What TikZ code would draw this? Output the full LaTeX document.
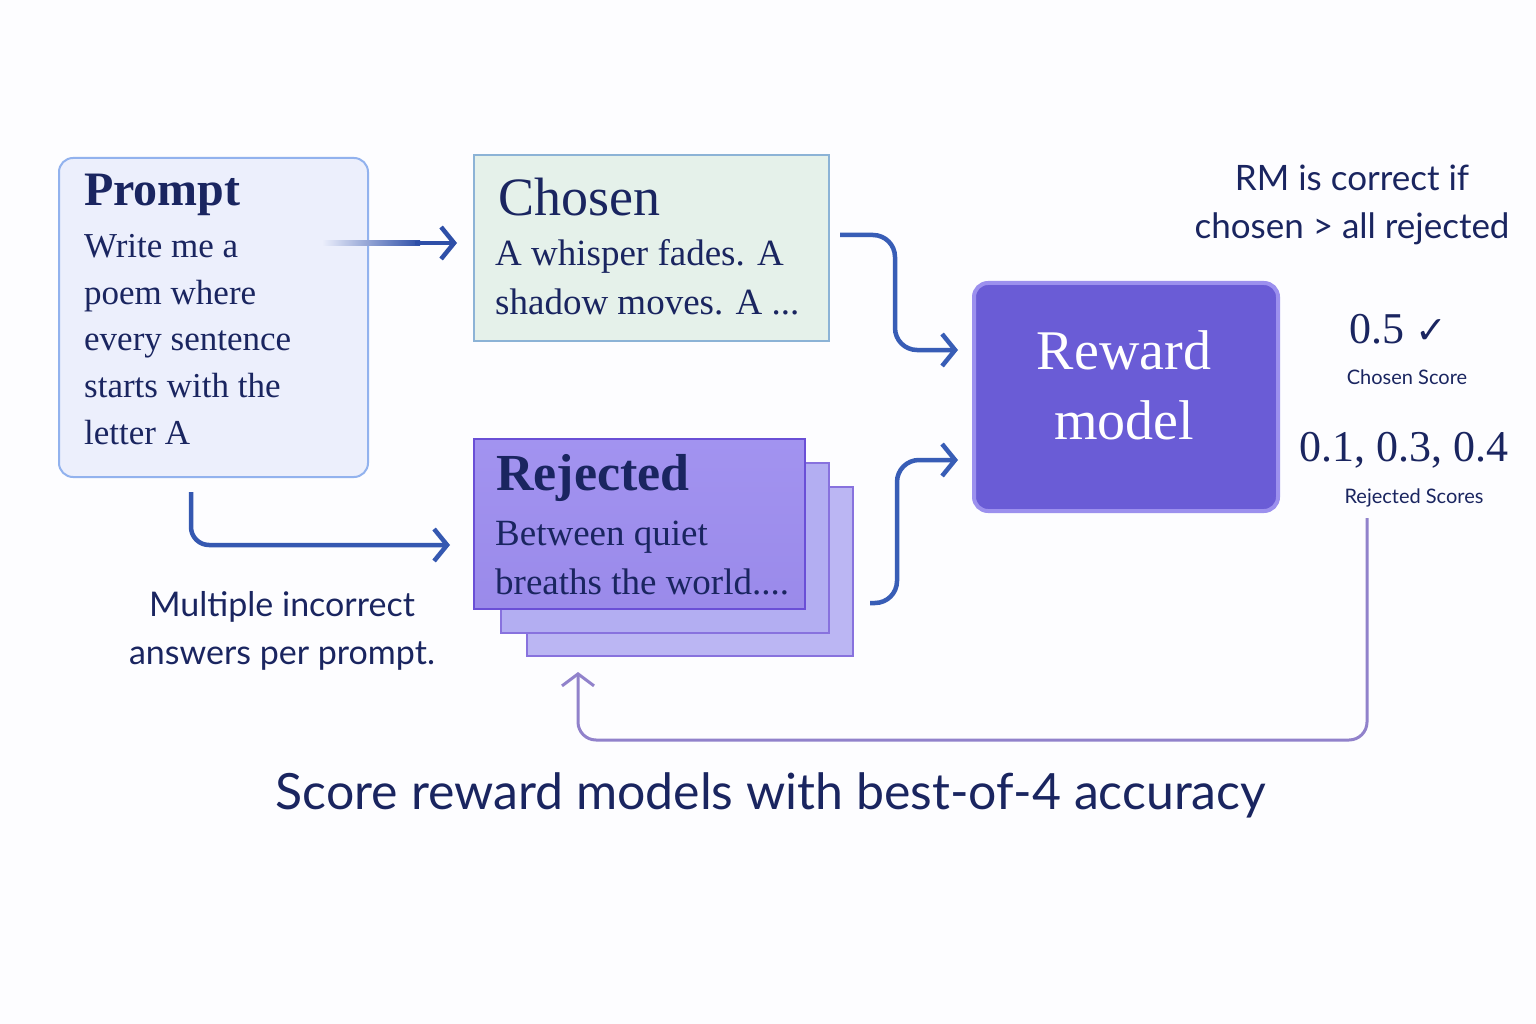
\documentclass[tikz,border=0pt]{standalone}
\usepackage{fontspec}
\setmainfont{Liberation Serif}
\newfontfamily\sansf{Lato}
\newfontfamily\symf{DejaVu Sans}
\usetikzlibrary{arrows.meta}
\definecolor{dblue}{HTML}{2E4FA8}
\definecolor{mblue}{HTML}{4F7FD8}
\definecolor{navy}{HTML}{1A2560}
\definecolor{rmfill}{HTML}{6A5CD6}
\definecolor{rmedge}{HTML}{9C90EE}
\definecolor{rjtop}{HTML}{A293F0}
\definecolor{rjbot}{HTML}{9A8AEA}
\definecolor{rjback}{HTML}{B3AEF2}
\definecolor{rjedge}{HTML}{6A4FD6}
\definecolor{chfill}{HTML}{E5F1EA}
\definecolor{chedge}{HTML}{8CB3D6}
\definecolor{pfill}{HTML}{ECEFFC}
\definecolor{pedge}{HTML}{92B2EE}
\tikzset{x=1pt,y=-1pt,
 conn/.style={line width=4.5pt,rounded corners=18pt,-{Straight Barb[length=13pt,width=32pt,line width=4.5pt]}},
 lbl/.style={inner sep=0,text=navy,align=left,anchor=west},
 fs/.style={font=\fontsize{#1}{#1}\selectfont}}
\begin{document}
\begin{tikzpicture}
\useasboundingbox (0,0) rectangle (1536,1024);
\fill[white!97!blue!30] (0,0) rectangle (1536,1024);
% prompt
\node[draw=pedge,line width=2pt,fill=pfill,rounded corners=14pt,minimum width=309pt,minimum height=319pt,anchor=north west] (p) at (58,157) {};
\node[lbl,fs=48] (pt) at (84,195) {\textbf{Prompt}};
\node[lbl,anchor=north west,font=\fontsize{35}{46.7}\selectfont] (pb) at (84,234) {\parbox[t]{270pt}{\raggedright Write me a\\poem where\\every sentence\\starts with the\\letter A}};
% chosen
\node[draw=chedge,line width=2pt,fill=chfill,minimum width=355pt,minimum height=186pt,anchor=north west] (c) at (473,154) {};
\node[lbl,fs=54] at (498,197) {Chosen};
\node[lbl,fs=37] at (495,256) {A whisper fades. A};
\node[lbl,fs=37] at (495,302) {shadow moves. A ...};
% rejected stack
\node[draw=rjedge!80,line width=2pt,fill=rjback!90,minimum width=326pt,minimum height=169pt,anchor=north west] (r3) at (526,486) {};
\node[draw=rjedge!80,line width=2pt,fill=rjback,minimum width=328pt,minimum height=170pt,anchor=north west] (r2) at (500,462) {};
\node[draw=rjedge,line width=2pt,top color=rjtop,bottom color=rjbot,minimum width=331pt,minimum height=170pt,anchor=north west] (r) at (473,438) {};
\node[lbl,fs=52] at (496,478) {\textbf{Rejected}};
\node[lbl,fs=37] at (495,537) {Between quiet};
\node[lbl,fs=37] at (495,582) {breaths the world....};
% reward model
\node[draw=rmedge,line width=4pt,fill=rmfill,rounded corners=14pt,minimum width=304pt,minimum height=228pt,anchor=north west] (rm) at (972,281) {};
\node[text=white,align=center,font=\fontsize{56}{70}\selectfont,inner sep=0] at (1124,385) {Reward\\model};
% right texts
\node[text=navy,align=center,inner sep=0,font=\sansf\fontsize{35}{48}\selectfont] (cond) at (1352,205) {RM is correct if\\chosen > all rejected};
\node[text=navy,fs=44,inner sep=0] (s1) at (1398,329) {0.5 {\symf\fontsize{38}{38}\selectfont ✓}};
\node[text=navy,inner sep=0,font=\sansf\fontsize{20}{20}\selectfont] (l1) at (1407,377) {Chosen Score};
\node[text=navy,fs=44,inner sep=0] (s2) at (1404,450) {0.1, 0.3, 0.4};
\node[text=navy,inner sep=0,font=\sansf\fontsize{20}{20}\selectfont] (l2) at (1414,498) {Rejected Scores};
\node[text=navy,align=center,inner sep=0,font=\sansf\fontsize{34}{48}\selectfont] (m) at (282,631) {Multiple incorrect\\answers per prompt.};
\node[text=navy,inner sep=0,font=\sansf\fontsize{50}{50}\selectfont] (t) at (771,795) {Score reward models with best-of-4 accuracy};
% connectors
\coordinate (a1) at (457,243);
\shade[left color=pfill,right color=dblue] (322,240.75) rectangle (420,245.25);
\draw[conn,dblue] (415,243) -- (a1);
\coordinate (b0) at (191,492); \coordinate (b1) at (450,545);
\draw[conn,dblue!80!mblue] (b0) |- (b1);
\coordinate (c0) at (840,235); \coordinate (c1) at (958,350);
\draw[conn,dblue!70!mblue,rounded corners=22pt] (c0) -| (895,300) |- (c1);
\coordinate (d0) at (870,603); \coordinate (d1) at (958,460);
\draw[conn,dblue!70!mblue,rounded corners=22pt] (d0) -| (897,520) |- (d1);
\coordinate (e0) at (1367,518); \coordinate (e1) at (578,672);
\draw[line width=3pt,mblue!60!violet!70,rounded corners=18pt,-{Straight Barb[length=12pt,width=32pt,line width=3pt]}] (e0) |- (700,740) -| (e1);
\end{tikzpicture}
\end{document}
